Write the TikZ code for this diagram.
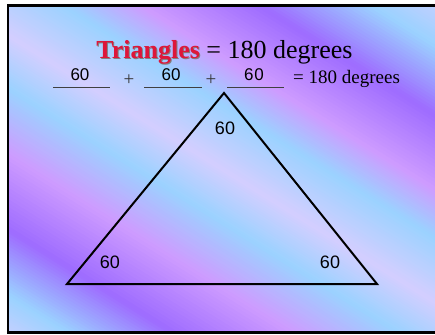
\documentclass[tikz,border=0pt]{standalone}
\usepackage{fontspec}
\setmainfont{Liberation Serif}
\setsansfont{Liberation Sans}
\definecolor{bglav}{RGB}{212,206,255}
\definecolor{bgblue}{RGB}{155,210,255}
\definecolor{bgpurple}{RGB}{158,108,255}
\definecolor{bgpink}{RGB}{206,156,255}
\definecolor{titlered}{RGB}{222,22,58}
\begin{document}
\begin{tikzpicture}[x=1pt, y=-1pt,
  angle/.style={font=\sffamily\fontsize{18}{18}\selectfont, inner sep=0pt},
  blank/.style={draw=black!75, line width=0.8pt},
  every node/.style={inner sep=0pt}]
\useasboundingbox (0,0) rectangle (435,334);
% background
\begin{scope}
\clip (8,5) rectangle (440,333);
\begin{scope}[x={(0.53pt,0.848pt)}, y={(0.848pt,-0.53pt)}]
\foreach \va/\vb/\ca/\cb in {-290/-245/bglav/bgblue, -245/-190/bgblue/bgpurple,
  -190/-125/bgpurple/bgpink, -125/-70/bgpink/bgblue, -70/-25/bgblue/bglav,
  -25/30/bglav/bgblue, 30/70/bgblue/bgpink, 70/134/bgpink/bgpurple,
  134/193/bgpurple/bgblue, 193/245/bgblue/bglav}
  \foreach \k in {0,...,19} {
    \pgfmathsetmacro\lo{\va+(\vb-\va)*\k/20-0.4}
    \pgfmathsetmacro\hi{\va+(\vb-\va)*(\k+1)/20+0.4}
    \pgfmathtruncatemacro\p{100-5*\k-2.5}
    \fill[fill=\ca!\p!\cb] (\lo,-700) -- (\hi,-700) -- (\hi,700) -- (\lo,700) -- cycle;
  }
\end{scope}
\end{scope}
\draw[line width=2.7pt] (445,5.3) -- (8,5.3) -- (8,332.5) -- (445,332.5);
% title
\node[anchor=base, font=\fontsize{26}{26}\selectfont] (title) at (224.5,59)
  {\textbf{\rlap{\kern1pt\raisebox{-1pt}{\textcolor{black!50}{Triangles}}}%
   \textcolor{titlered}{Triangles}} = 180 degrees};
% sum line
\draw[blank] (53,87) -- (110,87);
\draw[blank] (144,87) -- (202,87);
\draw[blank] (227,87) -- (284,87);
\node[anchor=base, font=\sffamily\fontsize{17}{17}\selectfont] (a1) at (80,81) {60};
\node[anchor=base, font=\sffamily\fontsize{17}{17}\selectfont] (a2) at (171,81) {60};
\node[anchor=base, font=\sffamily\fontsize{17}{17}\selectfont] (a3) at (254,81) {6\kern1pt0};
\node[font=\fontsize{19}{19}\selectfont, text=black!80] (p1) at (129,80) {+};
\node[font=\fontsize{19}{19}\selectfont, text=black!80] (p2) at (211,80) {+};
\node[anchor=base west, font=\fontsize{19}{19}\selectfont] (sum) at (293,83) {= 180 degrees};
% triangle
\coordinate (top) at (224,93);
\coordinate (left) at (67,284);
\coordinate (right) at (377,284);
\draw[line width=2pt, line join=miter] (top) -- (left) -- (right) -- cycle;
\node[angle] (t) at (225,128) {60};
\node[angle] (l) at (110,262) {60};
\node[angle] (r) at (330,262) {60};
\end{tikzpicture}
\end{document}
